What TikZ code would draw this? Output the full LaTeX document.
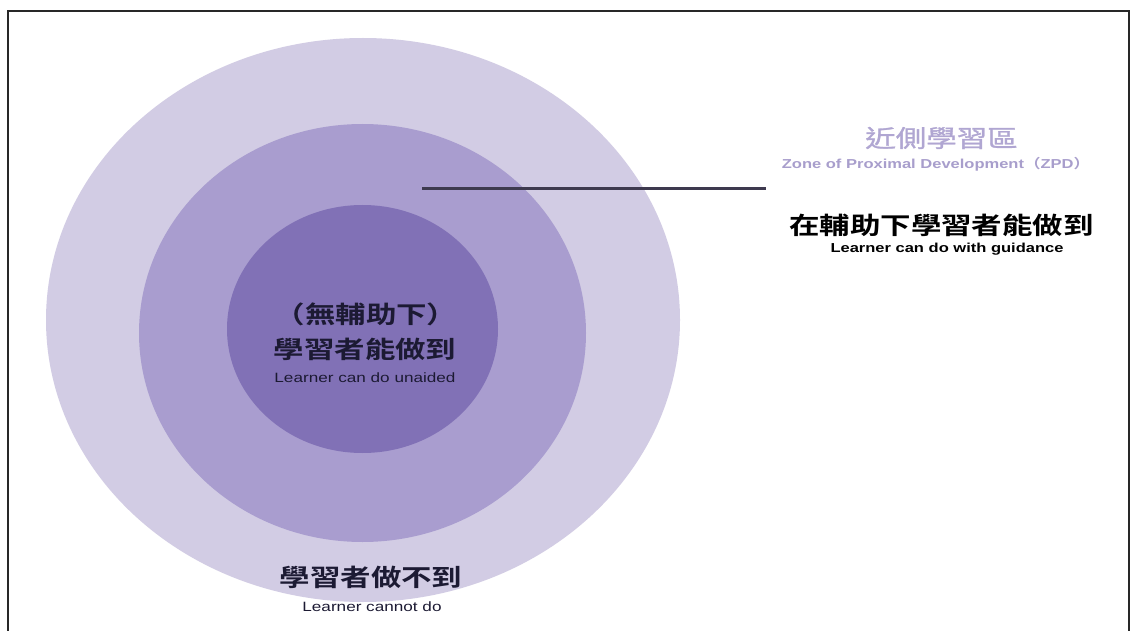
\documentclass[tikz,border=0pt]{standalone}
\usepackage{fontspec}
\newfontfamily\cjk[FakeStretch=1.27,BoldFont={Noto Sans CJK TC Bold}]{Noto Sans CJK TC}
\newfontfamily\cjkmed[FakeStretch=1.27,FakeBold=1.2]{Noto Sans CJK TC}
\newfontfamily\lat[FakeStretch=1.27]{Liberation Sans}
\definecolor{outerc}{RGB}{210,204,228}
\definecolor{midc}{RGB}{169,157,207}
\definecolor{innerc}{RGB}{129,113,182}
\definecolor{titlec}{RGB}{176,166,210}
\definecolor{subc}{RGB}{168,158,204}
\definecolor{navy}{RGB}{28,26,51}
\definecolor{framec}{RGB}{40,40,40}
\definecolor{linec}{RGB}{62,58,79}
\tikzset{
  txt/.style={inner sep=0pt, outer sep=0pt},
  cjkbig/.style={txt, font=\cjk\bfseries\fontsize{24}{26}\selectfont},
}
\begin{document}
\begin{tikzpicture}[x=1pt,y=-1pt]
\useasboundingbox (0,0) rectangle (1130,631);
\fill[white] (0,0) rectangle (1130,631);
% ellipses
\fill[outerc] (363,320) ellipse [x radius=317, y radius=282];
\fill[midc] (362.5,333) ellipse [x radius=223.5, y radius=209];
\fill[innerc] (362.5,329) ellipse [x radius=135.5, y radius=124];
% frame
\draw[framec, line width=2pt] (8,650) -- (8,11) -- (1129,11) -- (1129,650);
% texts
\node[txt, text=titlec, font=\cjkmed\fontsize{24}{26}\selectfont] (title) at (941.5,138) {近側學習區};
\node[txt, anchor=base, text=subc, font=\lat\bfseries\fontsize{13}{15}\selectfont] (zpd) at (936,169) {Zone of Proximal Development{\cjk（}ZPD{\cjk）}};
\node[cjkbig, text=black] (guide) at (941.5,225) {在輔助下學習者能做到};
\node[txt, anchor=base, text=black, font=\lat\bfseries\fontsize{13}{15}\selectfont] (guideen) at (947,252) {Learner can do with guidance};
\node[cjkbig, text=navy] (in1) at (366,314) {（無輔助下）};
\node[cjkbig, text=navy] (in2) at (365,349) {學習者能做到};
\node[txt, anchor=base, text=navy, font=\lat\fontsize{13.5}{15}\selectfont] (inen) at (365,382) {Learner can do unaided};
\node[cjkbig, text=navy] (out1) at (371,577) {學習者做不到};
\node[txt, anchor=base, text=navy, font=\lat\fontsize{13.5}{15}\selectfont] (outen) at (372,611) {Learner cannot do};
% leader line
\coordinate (ls) at (422,188.7);
\coordinate (le) at (766,188.7);
\draw[linec, line width=3pt] (ls) -- (le);
\end{tikzpicture}
\end{document}
